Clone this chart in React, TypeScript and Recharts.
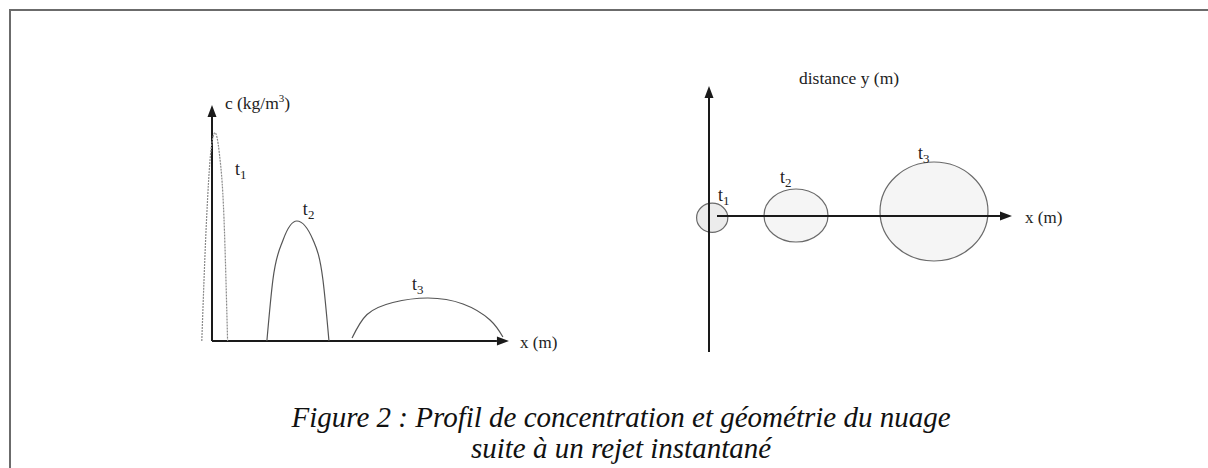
import { ComposedChart, Line, XAxis, YAxis, ReferenceLine, ReferenceArea, ReferenceDot } from "recharts";

// Profil de concentration (gauche) : x en m, c en unités arbitraires
const profileT1 = [
  { x: -3.4, c: 0 },
  { x: -1.8, c: 49 },
  { x: -0.4, c: 75.6 },
  { x: 1, c: 83.3 },
  { x: 2.4, c: 75.6 },
  { x: 4, c: 49 },
  { x: 5.2, c: 0 },
];
const profileT2 = [
  { x: 18.3, c: 0 },
  { x: 20.3, c: 24.4 },
  { x: 23.7, c: 40.4 },
  { x: 28.3, c: 48 },
  { x: 33.7, c: 40.4 },
  { x: 37, c: 24.4 },
  { x: 39, c: 0 },
];
const profileT3 = [
  { x: 46.7, c: 1.2 },
  { x: 51.7, c: 10.6 },
  { x: 60.3, c: 15.4 },
  { x: 72, c: 17.2 },
  { x: 83.7, c: 14.8 },
  { x: 92.7, c: 8.4 },
  { x: 97, c: 1.6 },
];
const profileLabels = [
  { x: 7.7, c: 69, t: "1" },
  { x: 30.3, c: 53, t: "2" },
  { x: 66.7, c: 23, t: "3" },
];

// Géométrie du nuage (droite) : étendue de chaque nuage
const cloudNames = ["1", "2", "3"];
const cloudX1 = [-6.2, 27.5, 85.5];
const cloudX2 = [9.4, 59.5, 139.5];
const cloudY1 = [-8.2, -13, -22.5];
const cloudY2 = [6.4, 13.5, 27];
const cloudFills = ["#ececec", "#f5f5f5", "#f5f5f5"];
const cloudLabels = [
  { x: 4.5, y: 10.5 },
  { x: 35.5, y: 19.5 },
  { x: 104.5, y: 31.5 },
];

const FONT = '"Liberation Serif", "Times New Roman", serif';
const AXIS = "#1a1a1a";

const Arrow = (props: any) => {
  const { x1, y1, x2, y2 } = props;
  const a = Math.atan2(y2 - y1, x2 - x1);
  const L = 12;
  const W = 4.5;
  const bx = x2 - L * Math.cos(a);
  const by = y2 - L * Math.sin(a);
  const px = -Math.sin(a) * W;
  const py = Math.cos(a) * W;
  return (
    <g>
      <line x1={x1} y1={y1} x2={bx} y2={by} stroke={AXIS} strokeWidth={2} />
      <polygon points={`${x2},${y2} ${bx + px},${by + py} ${bx - px},${by - py}`} fill={AXIS} />
    </g>
  );
};

const Ellipse = (props: any) => {
  const { x, y, width, height, fill } = props;
  return (
    <ellipse
      cx={x + width / 2}
      cy={y + height / 2}
      rx={Math.abs(width) / 2}
      ry={Math.abs(height) / 2}
      fill={fill}
      stroke="#6a6a6a"
      strokeWidth={1.2}
    />
  );
};

const tLabel = (sub: string, size: number) => (p: any) => {
  const vb = p.viewBox || {};
  const x = vb.x + (vb.width || 0) / 2;
  const y = vb.y + (vb.height || 0) / 2;
  return (
    <text x={x} y={y + size * 0.35} fontFamily={FONT} fontSize={size} fill="#222">
      t
      <tspan fontSize={size * 0.72} dy={size * 0.22}>
        {sub}
      </tspan>
    </text>
  );
};

const textLabel = (parts: any, size: number) => (p: any) => {
  const vb = p.viewBox || {};
  const x = vb.x + (vb.width || 0) / 2;
  const y = vb.y + (vb.height || 0) / 2;
  return (
    <text x={x} y={y + size * 0.35} fontFamily={FONT} fontSize={size} fill="#222">
      {parts}
    </text>
  );
};

const ProfileChart = () => (
  <ComposedChart width={380} height={280} margin={{ top: 0, right: 0, bottom: 0, left: 0 }}>
    <XAxis type="number" dataKey="x" domain={[-10, 116.7]} hide allowDataOverflow />
    <YAxis type="number" dataKey="c" domain={[-12, 100]} hide allowDataOverflow />
    <ReferenceLine segment={[{ x: 0, y: 0 }, { x: 0, y: 94.4 }]} ifOverflow="visible" shape={Arrow} />
    <ReferenceLine segment={[{ x: 0, y: 0 }, { x: 99, y: 0 }]} ifOverflow="visible" shape={Arrow} />
    <Line data={profileT1} dataKey="c" type="monotone" stroke="#8a8a8a" strokeWidth={1.2} strokeDasharray="2 1" dot={false} isAnimationActive={false} />
    <Line data={profileT2} dataKey="c" type="monotone" stroke="#555" strokeWidth={1.2} dot={false} isAnimationActive={false} />
    <Line data={profileT3} dataKey="c" type="natural" stroke="#555" strokeWidth={1.2} dot={false} isAnimationActive={false} />
    {profileLabels.map((l) => (
      <ReferenceDot key={l.t} x={l.x} y={l.c} r={0} ifOverflow="visible" label={tLabel(l.t, 18)} />
    ))}
    <ReferenceDot
      x={4.3}
      y={95.2}
      r={0}
      ifOverflow="visible"
      label={textLabel(
        [
          "c (kg/m",
          <tspan key="s" fontSize={11} dy={-7}>3</tspan>,
          <tspan key="p" dy={7}>)</tspan>,
        ],
        17.5
      )}
    />
    <ReferenceDot x={102.7} y={-0.6} r={0} ifOverflow="visible" label={textLabel("x (m)", 17)} />
  </ComposedChart>
);

const CloudChart = () => (
  <ComposedChart width={420} height={310} margin={{ top: 0, right: 0, bottom: 0, left: 0 }}>
    <XAxis type="number" dataKey="x" domain={[-30, 180]} hide allowDataOverflow />
    <YAxis type="number" dataKey="y" domain={[-77, 78]} hide allowDataOverflow />
    <ReferenceLine segment={[{ x: 0, y: -68 }, { x: 0, y: 65 }]} ifOverflow="visible" shape={Arrow} />
    {cloudNames.map((n, i) => (
      <ReferenceArea
        key={n}
        x1={cloudX1[i]}
        x2={cloudX2[i]}
        y1={cloudY1[i]}
        y2={cloudY2[i]}
        fill={cloudFills[i]}
        ifOverflow="visible"
        shape={Ellipse}
      />
    ))}
    <ReferenceLine segment={[{ x: 4, y: 0 }, { x: 151.5, y: 0 }]} ifOverflow="visible" shape={Arrow} />
    {cloudNames.map((n, i) => (
      <ReferenceDot key={n} x={cloudLabels[i].x} y={cloudLabels[i].y} r={0} ifOverflow="visible" label={tLabel(n, 18)} />
    ))}
    <ReferenceDot x={45} y={69} r={0} ifOverflow="visible" label={textLabel("distance y (m)", 17.5)} />
    <ReferenceDot x={158} y={-0.5} r={0} ifOverflow="visible" label={textLabel("x (m)", 17)} />
  </ComposedChart>
);

export default function App() {
  return (
    <div style={{ position: "fixed", left: 0, top: 0, width: 1208, height: 468, background: "#fff", overflow: "hidden" }}>
      <div
        style={{
          position: "absolute",
          left: 9,
          top: 9,
          width: 1260,
          height: 500,
          borderTop: "2px solid #6b6b6b",
          borderLeft: "2px solid #6b6b6b",
          boxSizing: "border-box",
        }}
      />
      <div style={{ position: "absolute", left: 182, top: 91 }}>
        <ProfileChart />
      </div>
      <div style={{ position: "absolute", left: 649, top: 60 }}>
        <CloudChart />
      </div>
      <div
        style={{
          position: "absolute",
          left: 121,
          top: 402,
          width: 1000,
          textAlign: "center",
          fontFamily: FONT,
          fontStyle: "italic",
          fontSize: 29,
          lineHeight: "31px",
          color: "#111",
        }}
      >
        Figure 2 : Profil de concentration et géométrie du nuage
        <br />
        suite à un rejet instantané
      </div>
    </div>
  );
}
